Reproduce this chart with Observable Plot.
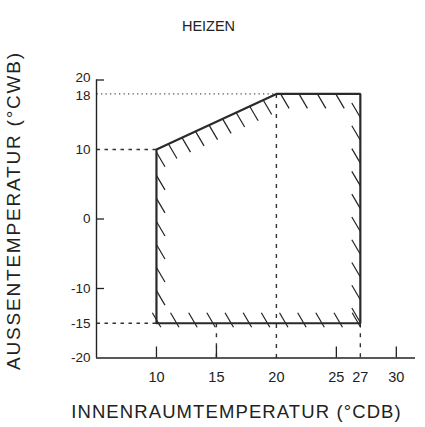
<!DOCTYPE html>
<html>
<head>
<meta charset="utf-8">
<script src="https://cdn.jsdelivr.net/npm/d3@7"></script>
<script src="https://cdn.jsdelivr.net/npm/@observablehq/plot@0.6"></script>
<style>
  html, body { margin: 0; padding: 0; background: #fff; }
  svg { display: block; }
</style>
</head>
<body>
<div id="chart"></div>
<script>
// ---- data ----
const title = "HEIZEN";
const xLabel = "INNENRAUMTEMPERATUR (°CDB)";
const yLabel = "AUSSENTEMPERATUR (°CWB)";
const xTickLabels = [10, 15, 20, 25, 27, 30];
const yTickLabels = [20, 18, 10, 0, -10, -15, -20];
const zoneX = [10, 10, 20, 27, 27, 10];
const zoneY = [-15, 10, 18, 18, -15, -15];
const xSolidTicks = [10, 15, 25, 30];
const ySolidTicks = [20, 0, -10];

// ---- layout ----
const W = 425, H = 427;
const mL = 96, mR = 10, mT = 79.5, mB = 69.5;
const xDom = [5, 31.6], yDom = [-20, 20];
const pxX = (W - mL - mR) / (xDom[1] - xDom[0]);
const pxY = (H - mT - mB) / (yDom[1] - yDom[0]);
const ink = "#222";

const zone = zoneX.map((x, i) => ({x, y: zoneY[i]}));

// hatch pattern (decoration): short "\" strokes along the inside of each edge
const hx = 8.5 / pxX, hy = 14.5 / pxY;
const hatches = [];
function spread(a, b, n) { return d3.range(n).map(i => a + (b - a) * i / (n - 1)); }
spread(9.6, -10.3, 7).forEach(y => hatches.push({x1: 10, y1: y, x2: 10 + hx, y2: y - hy}));
spread(11.0, 18.9, 8).forEach(x => { const y = 10 + (x - 10) * 0.8; hatches.push({x1: x, y1: y, x2: x + hx, y2: y - hy}); });
spread(20.35, 24.95, 4).forEach(x => hatches.push({x1: x, y1: 18, x2: x + hx, y2: 18 - hy}));
spread(14.6, -14.9, 10).forEach(y => hatches.push({x1: 27 - hx, y1: y + hy, x2: 27, y2: y}));
const up = 10.5 / 14.5, dn = 4 / 14.5;
spread(10.17, 26.83, 12).forEach(x => hatches.push({x1: x - hx * up, y1: -15 + hy * up, x2: x + hx * dn, y2: -15 - hy * dn}));

const guides = [
  {x1: 5, y1: 10, x2: 10, y2: 10, d: "3.5,4.5"},
  {x1: 5, y1: -15, x2: 10, y2: -15, d: "3.5,4.5"},
  {x1: 20, y1: 18, x2: 20, y2: -20, d: "4,6"},
  {x1: 27, y1: -15, x2: 27, y2: -20, d: "4,6"},
  {x1: 15, y1: -15, x2: 15, y2: -20, d: "4,6"}
];

const font = "'Liberation Sans', Arial, Helvetica, sans-serif";
const frameCx = (mL + (W - mR)) / 2, frameCy = (mT + (H - mB)) / 2;
// small pixel nudges (positive = down) so the crowded 20 / 18 labels do not collide
const yLabelNudgePx = d => d === 20 ? -2.5 : d === 18 ? 2 : 0;

const plot = Plot.plot({
  width: W, height: H,
  marginLeft: mL, marginRight: mR, marginTop: mT, marginBottom: mB,
  x: {domain: xDom, axis: null},
  y: {domain: yDom, axis: null},
  style: {fontFamily: font, background: "#fff", color: ink},
  marks: [
    Plot.link([{x1: 5, y1: 18, x2: 20, y2: 18}], {x1: "x1", y1: "y1", x2: "x2", y2: "y2", stroke: "#555", strokeWidth: 1.2, strokeDasharray: "1.3,3.2"}),
    ...guides.map(g => Plot.link([g], {x1: "x1", y1: "y1", x2: "x2", y2: "y2", stroke: "#333", strokeWidth: 1.4, strokeDasharray: g.d})),
    Plot.ruleX([xDom[0]], {y1: yDom[0], y2: yDom[1], stroke: ink, strokeWidth: 1.4}),
    Plot.ruleY([yDom[0]], {x1: xDom[0], x2: xDom[1], stroke: ink, strokeWidth: 1.4}),
    Plot.ruleY(ySolidTicks, {x1: xDom[0], x2: xDom[0] + 8 / pxX, stroke: ink, strokeWidth: 1.3}),
    Plot.ruleX(xSolidTicks, {y1: yDom[0], y2: yDom[0] + 11 / pxY, stroke: ink, strokeWidth: 1.3}),
    Plot.link(hatches, {x1: "x1", y1: "y1", x2: "x2", y2: "y2", stroke: ink, strokeWidth: 1.2}),
    Plot.line(zone, {x: "x", y: "y", stroke: "#2a2a2a", strokeWidth: 2.2, strokeLinejoin: "miter"}),
    Plot.text(yTickLabels, {x: xDom[0], y: d => d - yLabelNudgePx(d) / pxY, text: d => String(d), textAnchor: "end", dx: -6, fontSize: 13.5, fill: ink}),
    Plot.text(xTickLabels, {x: d => d, y: yDom[0], text: d => String(d), dy: 19, fontSize: 14.5, fill: ink}),
    Plot.text([title], {frameAnchor: "top", textAnchor: "middle", dx: 208 - frameCx, dy: -59.5, fontSize: 14.5, fill: ink}),
    Plot.text([xLabel], {frameAnchor: "bottom", textAnchor: "middle", dx: 236 - frameCx, dy: 412 - (H - mB), fontSize: 18.5, fill: ink, lineAnchor: "middle"}),
    Plot.text([yLabel], {frameAnchor: "left", textAnchor: "middle", dx: 13 - mL, dy: 210 - frameCy, rotate: -90, fontSize: 19, fill: ink, lineAnchor: "middle"})
  ]
});
d3.select(plot).selectAll("text").each(function() {
  const t = this.textContent;
  if (t === xLabel) this.style.letterSpacing = "1.1px";
  if (t === yLabel) this.style.letterSpacing = "1.8px";
});
document.getElementById("chart").appendChild(plot);
</script>
</body>
</html>
